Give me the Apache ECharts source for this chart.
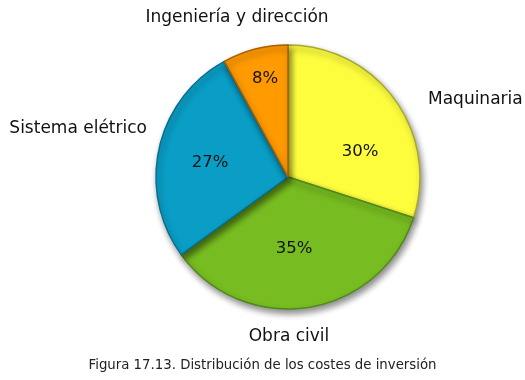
<!DOCTYPE html>
<html>
<head>
<meta charset="utf-8">
<script src="https://cdn.jsdelivr.net/npm/echarts@6/dist/echarts.min.js"></script>
<style>
html,body{margin:0;padding:0;background:#fff;}
#chart{width:525px;height:380px;}
</style>
</head>
<body>
<div id="chart"></div>
<script>
var categories = ['Maquinaria', 'Obra civil', 'Sistema elétrico', 'Ingeniería y dirección'];
var values = [30, 35, 27, 8];
var caption = 'Figura 17.13. Distribución de los costes de inversión';

var colors = ['#FDFD3E', '#77BC20', '#0A9EC6', '#FF9A00'];
var borders = ['#A8A830', '#4E8A18', '#08708E', '#A86000'];
var nameLabelPos = [[428, 100, 'left'], [289, 337, 'center'], [147, 129, 'right'], [237, 18, 'center']];
var pctLabelPos = [[360, 152], [294, 249], [210, 163], [265, 79]];

var fontFam = '"DejaVu Sans", Verdana, sans-serif';

var chart = echarts.init(document.getElementById('chart'));

var pieData = categories.map(function (c, i) {
  return {
    name: c, value: values[i],
    itemStyle: { color: colors[i], borderColor: borders[i] }
  };
});
var ghostData = categories.map(function (c, i) {
  return { name: c, value: values[i] };
});

chart.setOption({
  animation: false,
  backgroundColor: '#ffffff',
  title: {
    text: caption,
    left: 'center',
    top: 354,
    textStyle: { fontFamily: fontFam, fontSize: 13.3, fontWeight: 'normal', color: '#222' }
  },
  series: [
    {
      type: 'pie',
      center: [288, 177],
      radius: [0, 132],
      startAngle: 90,
      clockwise: true,
      silent: true,
      data: pieData,
      itemStyle: {
        borderWidth: 1.5,
        shadowBlur: 6,
        shadowOffsetX: 2,
        shadowOffsetY: 4,
        shadowColor: 'rgba(0,0,0,0.45)'
      },
      label: {
        show: true,
        position: 'inside',
        formatter: '{c}%',
        fontFamily: fontFam,
        fontSize: 16.5,
        color: '#111'
      },
      labelLayout: function (p) {
        var q = pctLabelPos[p.dataIndex];
        return { x: q[0], y: q[1], align: 'center', verticalAlign: 'middle' };
      }
    },
    {
      type: 'pie',
      center: [288, 177],
      radius: [0, 132],
      startAngle: 90,
      clockwise: true,
      silent: true,
      data: ghostData,
      itemStyle: { color: 'rgba(0,0,0,0)', borderWidth: 0 },
      labelLine: { show: false },
      label: {
        show: true,
        position: 'outside',
        alignTo: 'none',
        overflow: 'none',
        formatter: '{b}',
        fontFamily: fontFam,
        fontSize: 17,
        color: '#111'
      },
      labelLayout: function (p) {
        var q = nameLabelPos[p.dataIndex];
        return { x: q[0], y: q[1], align: q[2], verticalAlign: 'middle' };
      }
    }
  ]
});
</script>
</body>
</html>
